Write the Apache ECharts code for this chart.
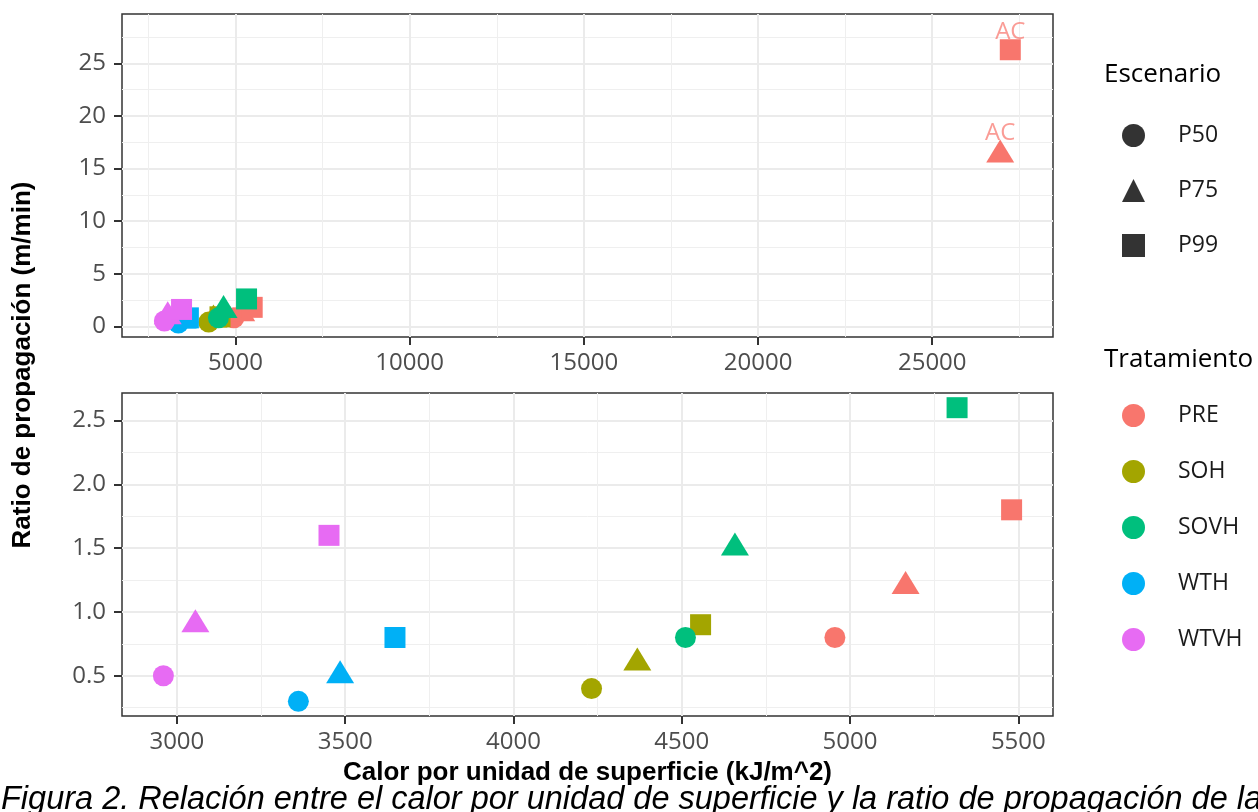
<!DOCTYPE html>
<html><head><meta charset="utf-8">
<script src="https://cdn.jsdelivr.net/npm/echarts@6/dist/echarts.min.js"></script>
<style>html,body{margin:0;padding:0;background:#fff}#c{width:1258px;height:812px}</style>
</head><body><div id="c"></div>
<script>
// ---- data ----
const treatments = ['PRE', 'SOH', 'SOVH', 'WTH', 'WTVH'];
const treatmentColors = ['#F8766D', '#A3A500', '#00BF7D', '#00B0F6', '#E76BF3'];
const scenarios = ['P50', 'P75', 'P99'];
const heatPRE = [4955, 5165, 5480];
const ratePRE = [0.8, 1.2, 1.8];
const heatSOH = [4232, 4368, 4556];
const rateSOH = [0.4, 0.6, 0.9];
const heatSOVH = [4511, 4658, 5318];
const rateSOVH = [0.8, 1.5, 2.6];
const heatWTH = [3361, 3485, 3648];
const rateWTH = [0.3, 0.5, 0.8];
const heatWTVH = [2960, 3055, 3452];
const rateWTVH = [0.5, 0.9, 1.6];
// AC outliers (treatment PRE), only in the upper panel
const acScenarios = ['P75', 'P99'];
const acHeat = [26950, 27240];
const acRate = [16.3, 26.3];
const acLabels = ['AC', 'AC'];
// ticks
const topXTicks = [5000, 10000, 15000, 20000, 25000];
const topYTicks = [0, 5, 10, 15, 20, 25];
const bottomXTicks = [3000, 3500, 4000, 4500, 5000, 5500];
const bottomYTicks = [0.5, 1.0, 1.5, 2.0, 2.5];
// texts
const yTitle = 'Ratio de propagación (m/min)';
const xTitle = 'Calor por unidad de superficie (kJ/m^2)';
const legendTitle1 = 'Escenario';
const legendTitle2 = 'Tratamiento';
const caption = 'Figura 2. Relación entre el calor por unidad de superficie y la ratio de propagación de la';

// ---- build ----
const heatBy = [heatPRE, heatSOH, heatSOVH, heatWTH, heatWTVH];
const rateBy = [ratePRE, rateSOH, rateSOVH, rateWTH, rateWTVH];

function marker(s) {
  if (s === 'P75') return { symbol: 'triangle', symbolSize: [28, 23], symbolOffset: [0, -4] };
  if (s === 'P99') return { symbol: 'rect', symbolSize: 21 };
  return { symbol: 'circle', symbolSize: 21 };
}
const legendIcon = { P50: 'circle', P75: 'triangle', P99: 'rect' };

const series = [];
[0, 1].forEach(function (g) {
  treatments.forEach(function (t, ti) {
    series.push({
      name: t, type: 'scatter', xAxisIndex: g, yAxisIndex: g,
      symbol: 'circle', itemStyle: { color: treatmentColors[ti], opacity: 1 },
      data: scenarios.map(function (s, i) {
        return Object.assign({ value: [heatBy[ti][i], rateBy[ti][i]] }, marker(s));
      }),
      z: 3
    });
  });
});
series.push({
  name: 'PRE', type: 'scatter', xAxisIndex: 0, yAxisIndex: 0, symbol: 'circle',
  itemStyle: { color: treatmentColors[0], opacity: 1 },
  data: acScenarios.map(function (s, i) {
    return Object.assign({ value: [acHeat[i], acRate[i]], label: { formatter: acLabels[i] } }, marker(s));
  }),
  label: {
    show: true, position: 'inside', offset: [0, -18],
    fontFamily: 'Open Sans', fontSize: 24, color: 'rgba(248,118,109,0.72)'
  },
  z: 3
});
scenarios.forEach(function (s) {
  series.push({ name: s, type: 'scatter', xAxisIndex: 0, yAxisIndex: 0, data: [],
    symbol: legendIcon[s], itemStyle: { color: '#000' } });
});

const tickFont = { fontFamily: 'Open Sans', fontSize: 24, color: '#4D4D4D' };
function xAxisCfg(grid, min, max, ticks, interval) {
  return {
    type: 'value', gridIndex: grid, min: min, max: max,
    minInterval: interval, maxInterval: interval,
    axisLine: { show: false, onZero: false },
    axisTick: { show: true, length: 8, lineStyle: { color: '#333', width: 2 }, customValues: ticks },
    axisLabel: Object.assign({ margin: 14, customValues: ticks, formatter: function (v) { return String(v); } }, tickFont),
    splitLine: { show: true, lineStyle: { color: '#EBEBEB', width: 2 } },
    minorTick: { show: false, splitNumber: 2 },
    minorSplitLine: { show: true, lineStyle: { color: '#EFEFEF', width: 1 } }
  };
}
function yAxisCfg(grid, min, max, ticks, interval, fmt) {
  return {
    type: 'value', gridIndex: grid, min: min, max: max,
    minInterval: interval, maxInterval: interval,
    axisLine: { show: false, onZero: false },
    axisTick: { show: true, length: 8, lineStyle: { color: '#333', width: 2 }, customValues: ticks },
    axisLabel: Object.assign({ margin: 16, customValues: ticks, formatter: fmt }, tickFont),
    splitLine: { show: true, lineStyle: { color: '#EBEBEB', width: 2 } },
    minorTick: { show: false, splitNumber: 2 },
    minorSplitLine: { show: true, lineStyle: { color: '#EFEFEF', width: 1 } }
  };
}

const legendText = { fontFamily: 'Open Sans', fontSize: 23, color: '#1a1a1a', padding: [0, 0, 0, 28] };
const option = {
  animation: false,
  backgroundColor: '#fff',
  grid: [
    { left: 122, top: 14, width: 931, height: 323, show: true, borderColor: '#333', borderWidth: 1.5, backgroundColor: 'transparent' },
    { left: 122, top: 393, width: 931, height: 323, show: true, borderColor: '#333', borderWidth: 1.5, backgroundColor: 'transparent' }
  ],
  xAxis: [
    xAxisCfg(0, 1743, 28466, topXTicks, 5000),
    xAxisCfg(1, 2837, 5603, bottomXTicks, 500)
  ],
  yAxis: [
    yAxisCfg(0, -1.02, 29.7, topYTicks, 5, function (v) { return String(v); }),
    yAxisCfg(1, 0.185, 2.715, bottomYTicks, 0.5, function (v) { return v.toFixed(1); })
  ],
  legend: [
    { data: scenarios.map(function (s) { return { name: s, icon: legendIcon[s] }; }),
      orient: 'vertical', left: 1122, top: 124, itemWidth: 23, itemHeight: 23, itemGap: 32,
      textStyle: legendText, selectedMode: false, padding: 0 },
    { data: treatments.map(function (t) { return { name: t, icon: 'circle' }; }),
      orient: 'vertical', left: 1122, top: 404, itemWidth: 23, itemHeight: 23, itemGap: 33,
      textStyle: legendText, selectedMode: false, padding: 0 }
  ],
  graphic: [
    { type: 'text', x: 23, y: 365, rotation: Math.PI / 2,
      style: { text: yTitle, fontFamily: 'Liberation Sans', fontWeight: 'bold', fontSize: 26, fill: '#000', align: 'center', verticalAlign: 'middle' } },
    { type: 'text', x: 1, y: 800,
      style: { text: caption, fontFamily: 'Liberation Sans', fontStyle: 'italic', fontSize: 32.5, fill: '#000', align: 'left', verticalAlign: 'middle' } },
    { type: 'text', x: 587.5, y: 773,
      style: { text: xTitle, fontFamily: 'Liberation Sans', fontWeight: 'bold', fontSize: 26, fill: '#000', align: 'center', verticalAlign: 'middle' } },
    { type: 'text', x: 1104, y: 75,
      style: { text: legendTitle1, fontFamily: 'Open Sans', fontSize: 26, fill: '#000', align: 'left', verticalAlign: 'middle' } },
    { type: 'text', x: 1104, y: 360,
      style: { text: legendTitle2, fontFamily: 'Open Sans', fontSize: 26, fill: '#000', align: 'left', verticalAlign: 'middle' } }
  ],
  series: series
};
const chart = echarts.init(document.getElementById('c'), null, { renderer: 'canvas' });
chart.setOption(option);
</script>
</body></html>
